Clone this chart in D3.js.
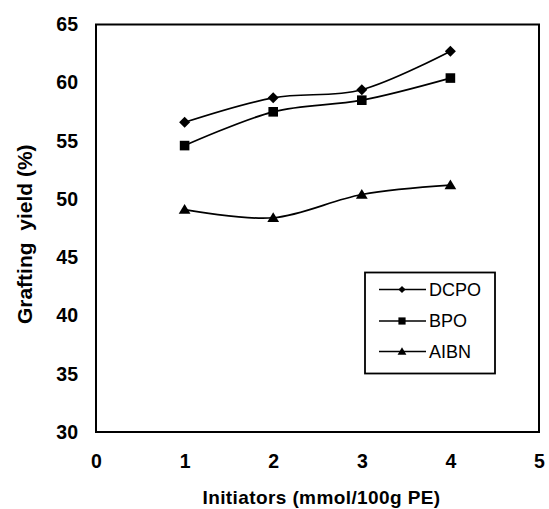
<!DOCTYPE html>
<html>
<head>
<meta charset="utf-8">
<script src="https://cdn.jsdelivr.net/npm/d3@7"></script>
<style>
  html, body { margin: 0; padding: 0; background: #fff; }
  svg { display: block; font-family: "Liberation Sans", Arial, sans-serif; }
</style>
</head>
<body>
<svg id="chart" width="549" height="509"></svg>
<script>
// Initiator dose (mmol/100g PE)
const doses = [1, 2, 3, 4];
// Grafting yield (%) for each initiator
const dcpo = [56.6, 58.7, 59.4, 62.7];
const bpo  = [54.6, 57.5, 58.5, 60.4];
const aibn = [49.1, 48.4, 50.4, 51.2];
const seriesNames = ["DCPO", "BPO", "AIBN"];
const xTicks = [0, 1, 2, 3, 4, 5];
const yTicks = [30, 35, 40, 45, 50, 55, 60, 65];

const svg = d3.select("#chart");
const plot = { left: 96, right: 539, top: 24.5, bottom: 432 };

const x = d3.scaleLinear().domain([0, 5]).range([plot.left, plot.right]);
const y = d3.scaleLinear().domain([30, 65]).range([plot.bottom, plot.top]);

// Tick labels (no tick marks drawn)
const xAxis = d3.axisBottom(x).tickValues(xTicks).tickSize(0).tickPadding(22).tickFormat(d3.format("d"));
const yAxis = d3.axisLeft(y).tickValues(yTicks).tickSize(0).tickPadding(18).tickFormat(d3.format("d"));

svg.append("g").attr("transform", `translate(0,${plot.bottom})`).call(xAxis)
  .call(g => g.select(".domain").remove())
  .selectAll("text").attr("font-size", 19.5).attr("font-weight", "bold").attr("fill", "#000")
  .attr("font-family", "Liberation Sans, Arial, sans-serif");
svg.append("g").attr("transform", `translate(${plot.left},0)`).call(yAxis)
  .call(g => g.select(".domain").remove())
  .selectAll("text").attr("font-size", 19.5).attr("font-weight", "bold").attr("fill", "#000")
  .attr("font-family", "Liberation Sans, Arial, sans-serif");

// Plot frame
svg.append("rect")
  .attr("x", plot.left).attr("y", plot.top)
  .attr("width", plot.right - plot.left).attr("height", plot.bottom - plot.top)
  .attr("fill", "none").attr("stroke", "#000").attr("stroke-width", 2);

// Axis titles
svg.append("text")
  .attr("x", (plot.left + plot.right) / 2 + 4).attr("y", 504)
  .attr("text-anchor", "middle").attr("font-size", 19).attr("font-weight", "bold")
  .attr("letter-spacing", 0.4)
  .text("Initiators (mmol/100g PE)");
svg.append("text")
  .attr("transform", `translate(32,${(plot.top + plot.bottom) / 2 + 6}) rotate(-90)`)
  .attr("text-anchor", "middle").attr("font-size", 21).attr("font-weight", "bold")
  .attr("xml:space", "preserve")
  .text("Grafting  yield (%)");

// Marker shapes
const diamond = (s) => `M0,${-s}L${s},0L0,${s}L${-s},0Z`;
const square = (s) => `M${-s},${-s}H${s}V${s}H${-s}Z`;
const triangle = (s) => `M0,${-s}L${s * 1.05},${s * 0.75}L${-s * 1.05},${s * 0.75}Z`;

const series = [
  { name: seriesNames[0], values: dcpo, shape: diamond, size: 5.5, legendSize: 3.6 },
  { name: seriesNames[1], values: bpo, shape: square, size: 4.8, legendSize: 3.6 },
  { name: seriesNames[2], values: aibn, shape: triangle, size: 5.6, legendSize: 4.2 }
];

const line = d3.line()
  .x((d, i) => x(doses[i]))
  .y(d => y(d))
  .curve(d3.curveCatmullRom.alpha(0));

series.forEach(s => {
  svg.append("path")
    .datum(s.values)
    .attr("d", line)
    .attr("fill", "none").attr("stroke", "#000").attr("stroke-width", 1.7);
  svg.append("g").selectAll("path")
    .data(s.values)
    .join("path")
    .attr("transform", (d, i) => `translate(${x(doses[i])},${y(d)})`)
    .attr("d", s.shape(s.size))
    .attr("fill", "#000");
});

// Legend
const legend = svg.append("g");
legend.append("rect")
  .attr("x", 365).attr("y", 272.5).attr("width", 130).attr("height", 101)
  .attr("fill", "#fff").attr("stroke", "#000").attr("stroke-width", 1.8);
const rowY = [289.5, 321, 351.5];
series.forEach((s, i) => {
  const row = legend.append("g").attr("transform", `translate(0,${rowY[i]})`);
  row.append("line").attr("x1", 379).attr("x2", 426).attr("y1", 0).attr("y2", 0)
    .attr("stroke", "#000").attr("stroke-width", 1.5);
  row.append("path").attr("transform", "translate(402,0)")
    .attr("d", s.shape(s.legendSize)).attr("fill", "#000");
  row.append("text").attr("x", 429).attr("y", 0).attr("dy", "0.36em")
    .attr("font-size", 18).attr("fill", "#000")
    .text(s.name);
});
</script>
</body>
</html>
